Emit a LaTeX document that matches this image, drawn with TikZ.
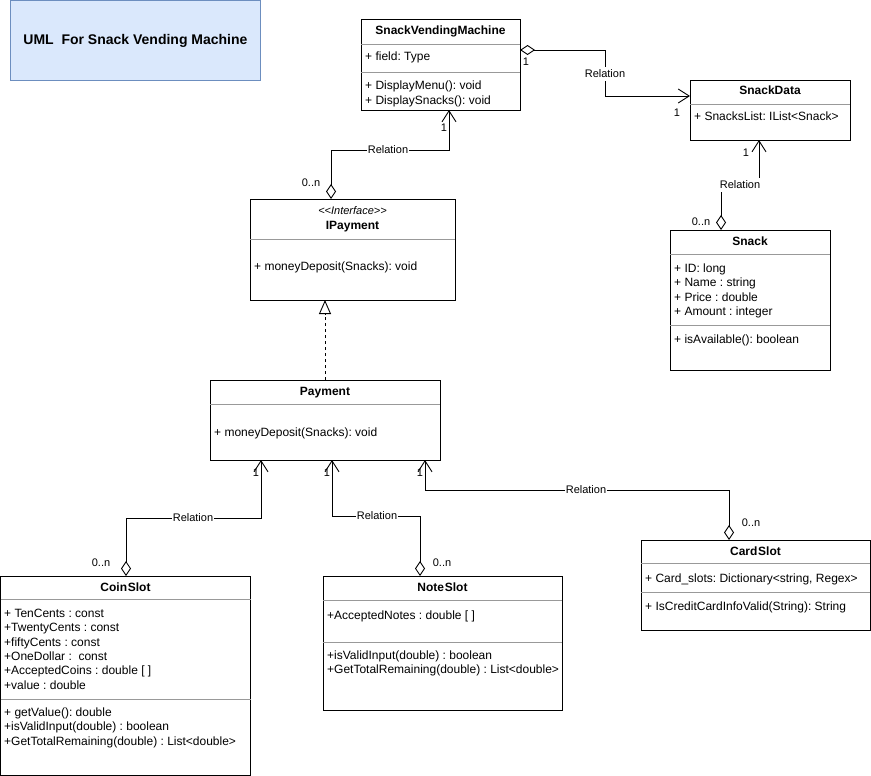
\documentclass[tikz,border=0pt]{standalone}
\usepackage{fontspec}
\setmainfont{Liberation Sans}
\usetikzlibrary{arrows.meta}
\definecolor{titlefill}{HTML}{DAE8FC}
\definecolor{titledraw}{HTML}{6C8EBF}
\frenchspacing
\begin{document}
\begin{tikzpicture}[x=1pt,y=-1pt,
 cls/.style={draw=black, fill=white, line width=0.9pt, inner sep=0pt, outer sep=0pt, anchor=north west},
 sepline/.style={draw=black!40, line width=0.8pt},
 ctitle/.style={font=\fontsize{12}{14}\selectfont\bfseries, inner sep=0pt, text height=10.5pt, text depth=2.5pt},
 mem/.style={font=\fontsize{12}{14}\selectfont, anchor=west, inner sep=0pt, text height=10.5pt, text depth=2.5pt},
 rel/.style={draw=black, line width=0.9pt, {Diamond[open,length=15pt,width=10pt]}-{Straight Barb[length=11pt,width=14pt]}},
 lbl/.style={font=\fontsize{11}{13}\selectfont, fill=white, inner sep=1pt, text height=9.4pt, text depth=2.2pt},
 mult/.style={font=\fontsize{11}{13}\selectfont, inner sep=0pt, text height=9.4pt, text depth=2.2pt},
]
\useasboundingbox (0,0) rectangle (871,776);

% title
\node[draw=titledraw, fill=titlefill, line width=0.9pt, minimum width=250pt, minimum height=79.5pt, anchor=north west, font=\fontsize{14}{16}\selectfont\bfseries] (title) at (10,0.5) {UML\ \ For Snack Vending Machine};

% SnackVendingMachine
\node[cls, minimum width=159pt, minimum height=91pt] (svm) at (361,19) {};
\draw[sepline] (361,44) -- (520,44);
\draw[sepline] (361,72) -- (520,72);
\node[ctitle] (svmt) at (440.5,31) {SnackVendingMachine};
\node[mem] (svm1) at (365,57) {+ field: Type};
\node[mem] (svm2) at (365,85) {+ DisplayMenu(): void};
\node[mem] (svm3) at (365,100) {+ DisplaySnacks(): void};

% SnackData
\node[cls, minimum width=160pt, minimum height=60pt] (sd) at (690,80) {};
\draw[sepline] (690,104) -- (850,104);
\node[ctitle] (sdt) at (770,91) {SnackData};
\node[mem] (sd1) at (694,117) {+ SnacksList: IList<Snack>};

% Snack
\node[cls, minimum width=160pt, minimum height=140pt] (snack) at (670,230) {};
\draw[sepline] (670,254) -- (830,254);
\draw[sepline] (670,325) -- (830,325);
\node[ctitle] (snt) at (750,241) {Snack};
\node[mem] (sn1) at (674,268) {+ ID: long};
\node[mem] (sn2) at (674,282) {+ Name : string};
\node[mem] (sn3) at (674,297) {+ Price : double};
\node[mem] (sn4) at (674,311) {+ Amount : integer};
\node[mem] (sn5) at (674,339) {+ isAvailable(): boolean};

% IPayment
\node[cls, minimum width=205pt, minimum height=101pt] (ipay) at (250,199) {};
\draw[sepline] (250,239) -- (455,239);
\node[font=\fontsize{11}{13}\selectfont\itshape, inner sep=0pt, text height=9.4pt, text depth=2.2pt] (ipst) at (352.5,211) {<\kern0pt<Interface>\kern0pt>};
\node[ctitle] (ipt) at (352.5,225) {IPayment};
\node[mem] (ip1) at (254,266) {+ moneyDeposit(Snacks): void};

% Payment
\node[cls, minimum width=230pt, minimum height=80pt] (pay) at (210,380) {};
\draw[sepline] (210,404) -- (440,404);
\node[ctitle] (pt) at (325,391) {Payment};
\node[mem] (p1) at (214,432) {+ moneyDeposit(Snacks): void};

% CoinSlot
\node[cls, minimum width=250pt, minimum height=199.5pt] (coin) at (0.5,576) {};
\draw[sepline] (0.5,599) -- (250.5,599);
\node[ctitle] (ct) at (125.5,587) {Coin\kern0.8pt Slot};
\draw[sepline] (0.5,699) -- (250.5,699);
\node[mem] (c1) at (4,613) {+ TenCents : const};
\node[mem] (c2) at (4,627) {+TwentyCents : const};
\node[mem] (c3) at (4,642) {+fiftyCents : const};
\node[mem] (c4) at (4,656) {+OneDollar :\ \ const};
\node[mem] (c5) at (4,670) {+AcceptedCoins : double [ ]};
\node[mem] (c6) at (4,685) {+value : double};
\node[mem] (c7) at (4,712) {+ getValue(): double};
\node[mem] (c8) at (4,726) {+isValidInput(double) : boolean};
\node[mem] (c9) at (4,741) {+GetTotalRemaining(double) : List<double>};

% NoteSlot
\node[cls, minimum width=239pt, minimum height=134pt] (note) at (323,576) {};
\draw[sepline] (323,600) -- (562,600);
\draw[sepline] (323,642) -- (562,642);
\node[ctitle] (nt) at (442.5,587) {Note\kern0.8pt Slot};
\node[mem] (n1) at (327,615) {+AcceptedNotes : double [ ]};
\node[mem] (n2) at (327,655) {+isValidInput(double) : boolean};
\node[mem] (n3) at (327,669) {+GetTotalRemaining(double) : List<double>};

% CardSlot
\node[cls, minimum width=229pt, minimum height=90pt] (card) at (641,540) {};
\draw[sepline] (641,563) -- (870,563);
\draw[sepline] (641,592) -- (870,592);
\node[ctitle] (cdt) at (755.5,551) {Card\kern0.8pt Slot};
\node[mem] (cd1) at (645,578) {+ Card\_slots: Dictionary<string, Regex>};
\node[mem] (cd2) at (645,606) {+ IsCreditCardInfoValid(String): String};

% connectors
\draw[rel] ([yshift=-31pt]svm.north east) -- ++(85,0) |- ([yshift=-16pt]sd.north west);
\node[lbl] (l1) at (605,74) {Relation};
\node[mult] (m1a) at (526,62) {1};
\node[mult] (m1b) at (677,113) {1};

\draw[rel] ([xshift=51pt]snack.north west) -- ++(0,-45) -| ([xshift=69pt]sd.south west);
\node[lbl] (l2) at (740,185) {Relation};
\node[mult] (m2a) at (746,153) {1};
\node[mult] (m2b) at (701,222) {0..n};

\draw[rel] ([xshift=81pt]ipay.north west) -- ++(0,-49) -| ([xshift=88pt]svm.south west);
\node[lbl] (l3) at (388,150) {Relation};
\node[mult] (m3a) at (444,128) {1};
\node[mult] (m3b) at (311,183) {0..n};

\draw[line width=0.9pt, dash pattern=on 3pt off 3pt, -{Triangle[open,length=14pt,width=12pt]}] ([xshift=115pt]pay.north west) -- ([xshift=75pt]ipay.south west);

\draw[rel] ([xshift=125.5pt]coin.north west) -- ++(0,-58) -| ([xshift=51pt]pay.south west);
\node[lbl] (l4) at (193,518) {Relation};
\node[mult] (m4a) at (256,473) {1};
\node[mult] (m4b) at (101,563) {0..n};

\draw[rel] ([xshift=97pt]note.north west) -- ++(0,-60) -| ([xshift=122pt]pay.south west);
\node[lbl] (l5) at (377,516) {Relation};
\node[mult] (m5a) at (327,473) {1};
\node[mult] (m5b) at (442,563) {0..n};

\draw[rel] ([xshift=88pt]card.north west) -- ++(0,-50) -| ([xshift=215pt]pay.south west);
\node[lbl] (l6) at (586,490) {Relation};
\node[mult] (m6a) at (420,473) {1};
\node[mult] (m6b) at (751,523) {0..n};
\end{tikzpicture}
\end{document}
